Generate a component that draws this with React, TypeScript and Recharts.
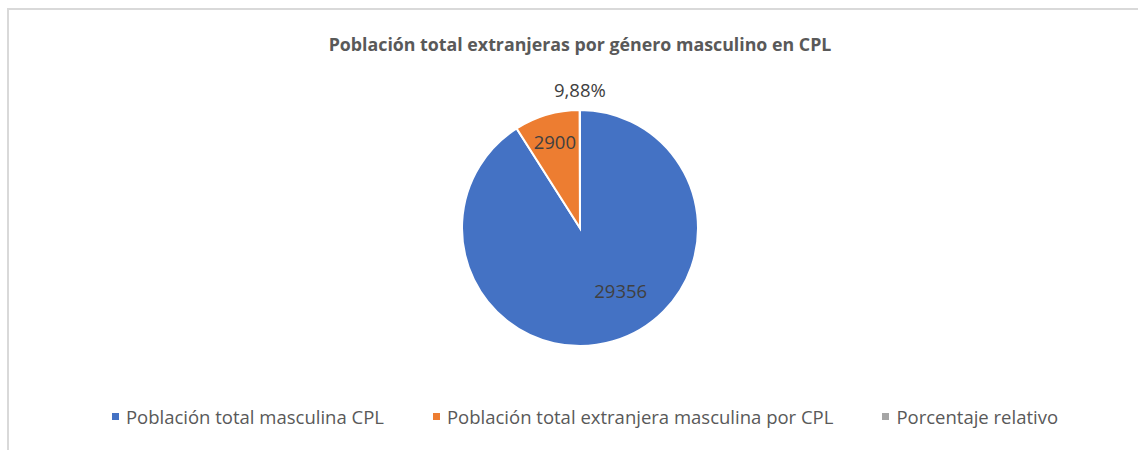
import React from 'react';
import { PieChart, Pie, Cell, Legend } from 'recharts';

const categories = [
  'Población total masculina CPL',
  'Población total extranjera masculina por CPL',
  'Porcentaje relativo',
];
const values = [29356, 2900, 9.88];
const labels = ['29356', '2900', '9,88%'];
const colors = ['#4472c4', '#ed7d31', '#a5a5a5'];

const title = 'Población total extranjeras por género masculino en CPL';

const data = categories.map((name, i) => ({ name, value: values[i], label: labels[i] }));

const RAD = Math.PI / 180;
// label placement per slice: fraction of radius + small angle nudge (best-fit style)
const labelRadius = [0.63, 0.76, 1.17];
const labelNudge = [17, 0, 0];

const renderLabel = (props: any) => {
  const { cx, cy, midAngle, outerRadius, index } = props;
  const r = outerRadius * labelRadius[index];
  const a = midAngle + labelNudge[index];
  const x = cx + r * Math.cos(-a * RAD);
  const y = cy + r * Math.sin(-a * RAD);
  return (
    <text
      x={x}
      y={y}
      fill="#404040"
      fontSize={18.5}
      fontFamily="'Open Sans', sans-serif"
      textAnchor="middle"
      dominantBaseline="central"
    >
      {data[index].label}
    </text>
  );
};

const LegendContent = () => (
  <div
    style={{
      display: 'flex',
      justifyContent: 'center',
      gap: 49,
      fontFamily: "'Open Sans', sans-serif",
      fontSize: 18.5,
      color: '#595959',
    }}
  >
    {categories.map((c, i) => (
      <div key={c} style={{ display: 'flex', alignItems: 'center' }}>
        <span
          style={{ width: 7, height: 7, background: colors[i], display: 'inline-block', marginRight: 7 }}
        />
        {c}
      </div>
    ))}
  </div>
);

export default function App() {
  return (
    <div style={{ position: 'absolute', left: 0, top: 0, width: 1138, height: 450, overflow: 'hidden', background: '#fff' }}>
      <div
        style={{
          position: 'absolute',
          left: 7,
          top: 8,
          width: 1160,
          height: 480,
          border: '2px solid #d9d9d9',
          boxSizing: 'border-box',
        }}
      />
      <div
        style={{
          position: 'absolute',
          left: 0,
          top: 32,
          width: 1160,
          textAlign: 'center',
          fontFamily: "'Open Sans', sans-serif",
          fontWeight: 700,
          fontSize: 17.8,
          color: '#595959',
        }}
      >
        {title}
      </div>
      <div style={{ position: 'absolute', left: 0, top: 0 }}>
        <PieChart width={1170} height={450} margin={{ top: 0, right: 0, bottom: 0, left: 0 }}>
          <Pie
            data={data}
            dataKey="value"
            nameKey="name"
            cx={580}
            cy={228}
            outerRadius={118}
            startAngle={90}
            endAngle={-270}
            stroke="#fff"
            strokeWidth={2}
            label={renderLabel}
            labelLine={false}
            isAnimationActive={false}
          >
            {data.map((d, i) => (
              <Cell key={d.name} fill={colors[i]} />
            ))}
          </Pie>
          <Legend
            content={<LegendContent />}
            verticalAlign="bottom"
            wrapperStyle={{ top: 404, left: 0, width: 1170, bottom: 'auto' }}
          />
        </PieChart>
      </div>
    </div>
  );
}
